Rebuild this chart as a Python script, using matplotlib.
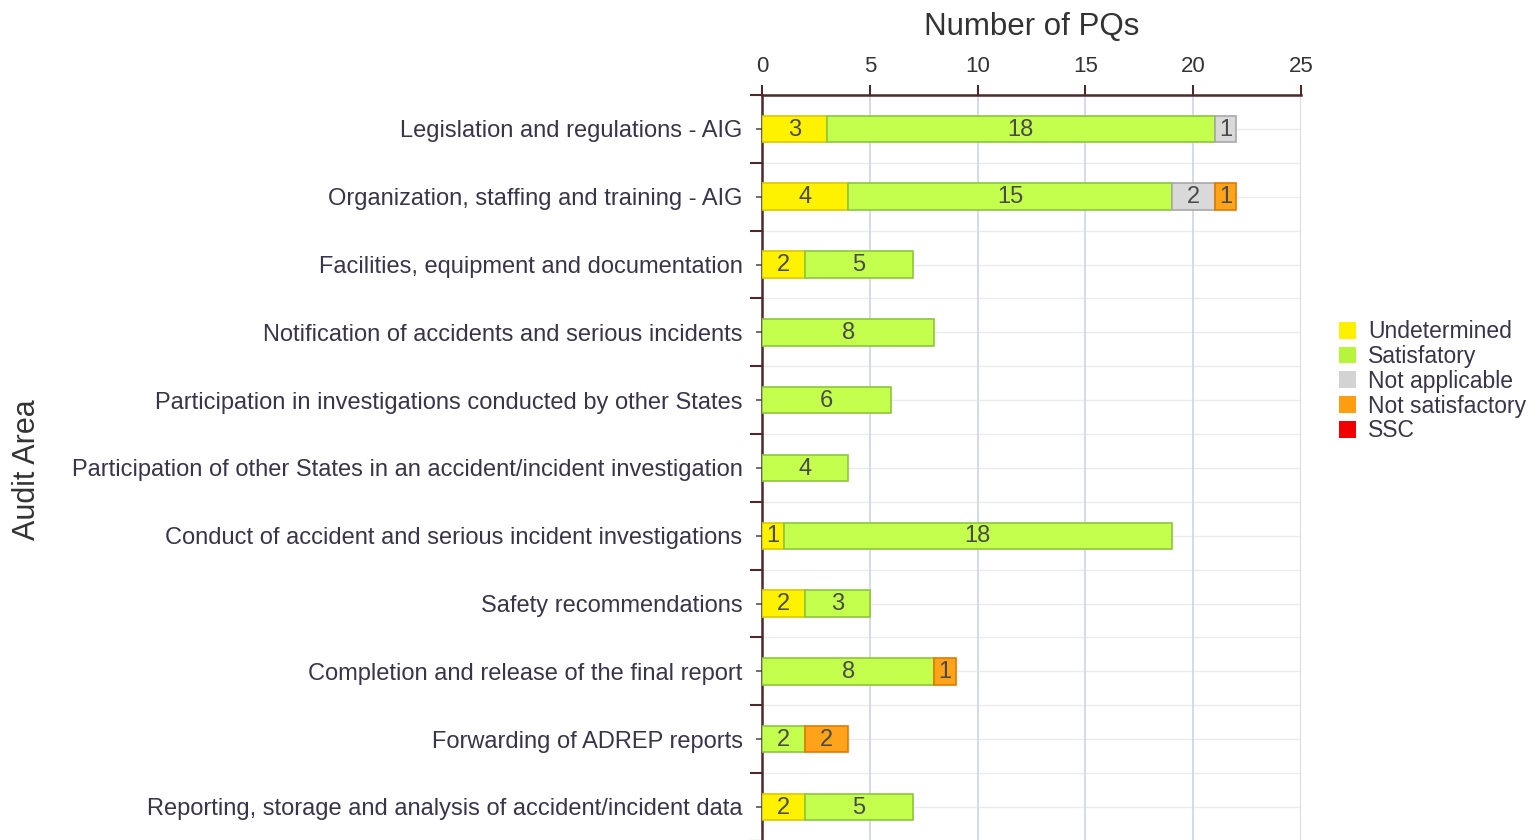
import matplotlib
matplotlib.use("Agg")
import matplotlib.pyplot as plt
from matplotlib.patches import Patch
import numpy as np

plt.rcParams['font.family'] = ['Liberation Sans', 'DejaVu Sans']

categories = [
    "Legislation and regulations - AIG",
    "Organization, staffing and training - AIG",
    "Facilities, equipment and documentation",
    "Notification of accidents and serious incidents",
    "Participation in investigations conducted by other States",
    "Participation of other States in an accident/incident investigation",
    "Conduct of accident and serious incident investigations",
    "Safety recommendations",
    "Completion and release of the final report",
    "Forwarding of ADREP reports",
    "Reporting, storage and analysis of accident/incident data",
]
undetermined = [3, 4, 2, 0, 0, 0, 1, 2, 0, 0, 2]
satisfactory = [18, 15, 5, 8, 6, 4, 18, 3, 8, 2, 5]
not_applicable = [1, 2, 0, 0, 0, 0, 0, 0, 0, 0, 0]
not_satisfactory = [0, 1, 0, 0, 0, 0, 0, 0, 1, 2, 0]
ssc = [0, 0, 0, 0, 0, 0, 0, 0, 0, 0, 0]

series_names = ["Undetermined", "Satisfatory", "Not applicable", "Not satisfactory", "SSC"]
series = [undetermined, satisfactory, not_applicable, not_satisfactory, ssc]
fills = ["#FFF200", "#C4FF4E", "#D9D9D9", "#FFA31A", "#FF0000"]
edges = ["#D8C800", "#8CC63F", "#A8A8A8", "#E07A00", "#C00000"]
legend_colors = ["#FFF000", "#B7F53A", "#D3D3D3", "#FF9F10", "#F00000"]

fig = plt.figure(figsize=(15.35, 8.4), dpi=100)
ax = fig.add_axes([762/1535, -0.001, (1301-762)/1535, 1 - 95/840 + 0.001])

n = len(categories)
y = np.arange(n)
left = np.zeros(n)
bar_h = 0.39
for vals, fc, ec in zip(series, fills, edges):
    vals = np.array(vals, dtype=float)
    mask = vals > 0
    if mask.any():
        bars = ax.barh(y[mask], vals[mask], left=left[mask], height=bar_h, color=fc,
                       edgecolor=ec, linewidth=1.2, zorder=3)
        for b, v in zip(bars, vals[mask]):
            ax.text(b.get_x() + b.get_width()/2, b.get_y() + b.get_height()/2 + 0.01,
                    f"{int(v)}", ha="center", va="center", fontsize=17,
                    color="#4a4a4a", zorder=4)
    left += vals

ax.set_xlim(0, 25)
ax.set_ylim(n - 0.5, -0.5)
ax.xaxis.tick_top()
ax.xaxis.set_label_position("top")
ax.set_xticks([0, 5, 10, 15, 20, 25])
ax.tick_params(axis="x", which="major", length=7, width=1.5, color="#4a2a2a",
               labelsize=16, labelcolor="#333333", pad=6)
ax.set_xlabel("Number of PQs", fontsize=22.5, color="#333333", labelpad=15)

ax.set_yticks(y)
ax.set_yticklabels(categories, fontsize=17, color="#3a3448")
ax.set_yticks(np.arange(-0.5, n, 1.0), minor=True)
ax.tick_params(axis="y", which="major", length=4, width=1.2, color="#555555", pad=10)
ax.tick_params(axis="y", which="minor", length=9, width=1.5, color="#4a2a2a")

# grid
for xv in [5, 10, 15, 20, 25]:
    ax.axvline(xv, color="#CFD9E6", linewidth=1.3, zorder=1)
for yv in np.arange(-0.5, n, 0.5):
    ax.axhline(yv, color="#EBEBEB", linewidth=1.0, zorder=0)

for s in ["right", "bottom"]:
    ax.spines[s].set_visible(False)
for s in ["left", "top"]:
    ax.spines[s].set_color("#4a2a2a")
    ax.spines[s].set_linewidth(1.8)

fig.text(27/1535, 1 - 470/840, "Audit Area", rotation=90, ha="center", va="center",
         fontsize=22, color="#333333")

handles = [Patch(facecolor=c, edgecolor="none") for c in legend_colors]
fig.legend(handles, series_names, loc="upper left",
           bbox_to_anchor=(1330/1535, 1 - 311/840), frameon=False, fontsize=16.5,
           handlelength=0.75, handleheight=0.75, handletextpad=0.5, labelspacing=0.08,
           labelcolor="#3a3448", borderaxespad=0)

fig.savefig("out.png", dpi=100)
